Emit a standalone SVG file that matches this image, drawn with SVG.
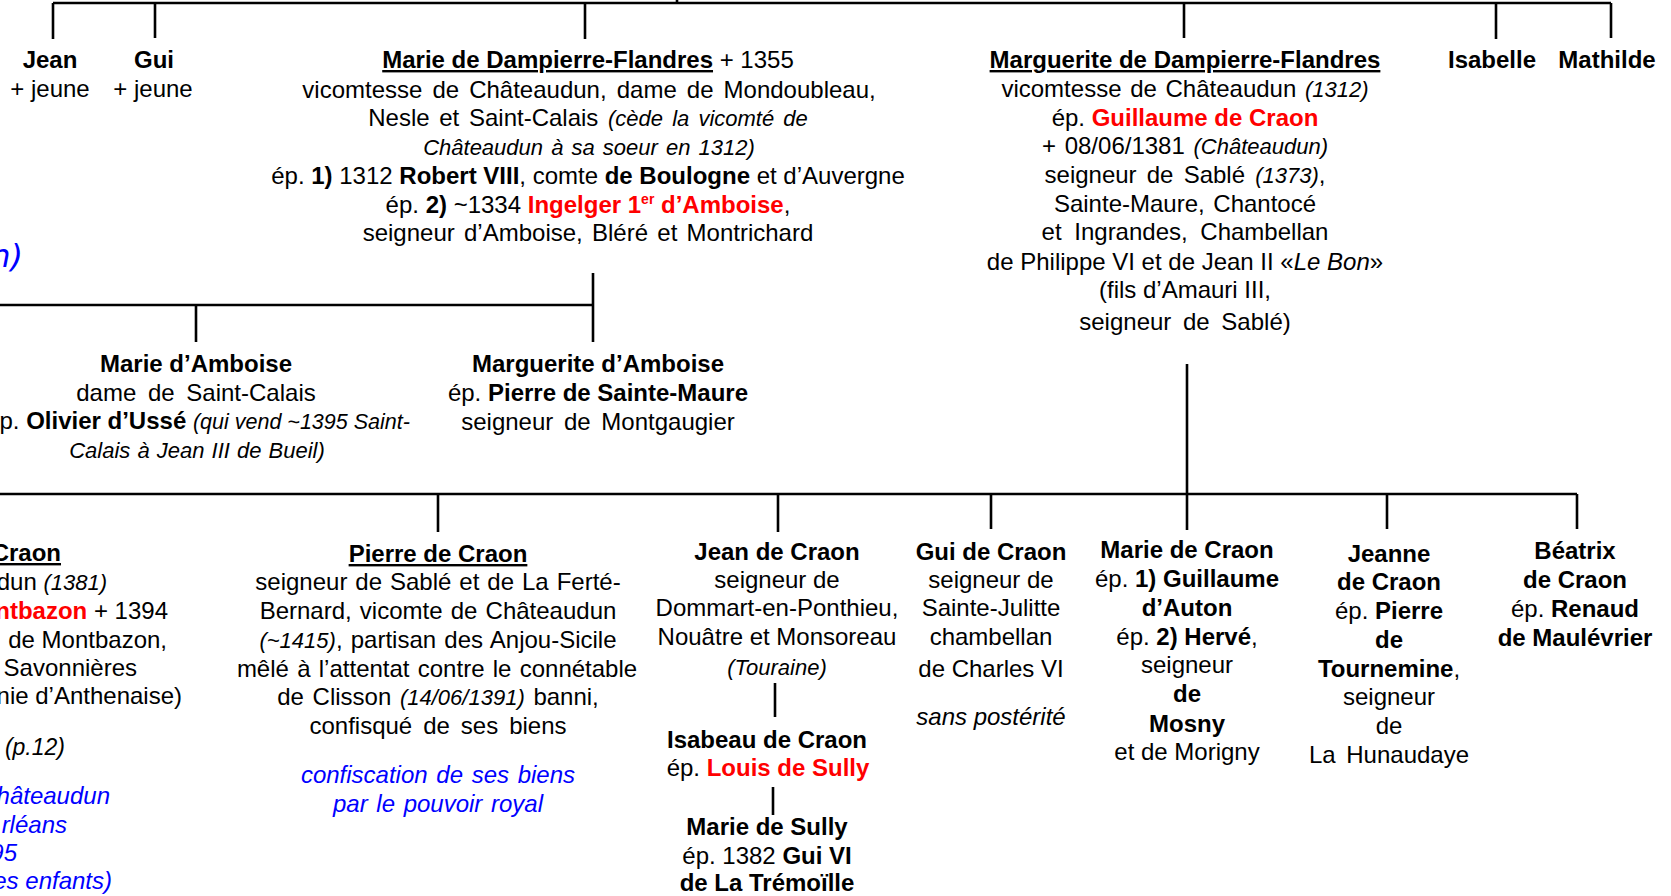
<svg xmlns="http://www.w3.org/2000/svg" width="1671" height="896" viewBox="0 0 1671 896">
<style>
text { font-family: "Liberation Sans", Arial, sans-serif; font-size: 24px; fill: #000; }
.c { text-anchor: middle; }
.e { text-anchor: end; }
.b { font-weight: bold; }
.i { font-style: italic; font-size: 22px; }
.il { font-style: italic; }
.r { fill: #FF0000; }
.bl { fill: #0000FF; font-style: italic; }
.u { text-decoration: underline; }
.sup { font-size: 14px; }
.ln { stroke: #000; stroke-width: 2.6; fill: none; }
</style>
<rect width="1671" height="896" fill="#fff"/>

<g id="connectors" class="ln">
  <path d="M53,3 H1611"/>
  <path d="M677,0 V3"/>
  <path d="M53,3 V39"/>
  <path d="M155,3 V38"/>
  <path d="M585,3 V39"/>
  <path d="M1184,3 V38"/>
  <path d="M1496,3 V39"/>
  <path d="M1611,3 V38"/>
  <path d="M0,305 H593"/>
  <path d="M593,273 V342"/>
  <path d="M196,305 V342"/>
  <path d="M0,494 H1577"/>
  <path d="M1187,364 V530"/>
  <path d="M438,494 V532"/>
  <path d="M778,494 V532"/>
  <path d="M991,494 V529"/>
  <path d="M1387,494 V529"/>
  <path d="M1577,494 V529"/>
  <path d="M775,683 V717"/>
  <path d="M773,787 V815"/>
</g>

<g id="note-left-top">
  <text x="23" y="267" class="e bl" style="font-family:'DejaVu Sans',sans-serif;font-size:32px">n)</text>
</g>

<g id="jean">
  <text x="50" y="68" class="c b">Jean</text>
  <text x="50" y="97" class="c">+ jeune</text>
</g>

<g id="gui">
  <text x="154" y="68" class="c b">Gui</text>
  <text x="153" y="97" class="c">+ jeune</text>
</g>

<g id="marie-dampierre">
  <text x="588" y="68" class="c"><tspan class="b u">Marie de Dampierre-Flandres</tspan> + 1355</text>
  <text x="589" y="98" class="c" style="word-spacing:3.4px">vicomtesse de Châteaudun, dame de Mondoubleau,</text>
  <text x="588" y="126" class="c" style="word-spacing:3px">Nesle et Saint-Calais <tspan class="i">(cède la vicomté de</tspan></text>
  <text x="589" y="155" class="c i" style="word-spacing:2px">Châteaudun à sa soeur en 1312)</text>
  <text x="588" y="184" class="c">ép. <tspan class="b">1)</tspan> 1312 <tspan class="b">Robert VIII</tspan>, comte <tspan class="b">de Boulogne</tspan> et d’Auvergne</text>
  <text x="588" y="213" class="c">ép. <tspan class="b">2)</tspan> ~1334 <tspan class="b r">Ingelger 1</tspan><tspan class="b r sup" dy="-9">er</tspan><tspan class="b r" dy="9"> d’Amboise</tspan>,</text>
  <text x="588" y="241" class="c" style="word-spacing:2.6px">seigneur d’Amboise, Bléré et Montrichard</text>
</g>

<g id="marguerite-dampierre">
  <text x="1185" y="68" class="c b"><tspan class="u">Marguerite de Dampierre-Flandres</tspan></text>
  <text x="1185" y="97" class="c" style="word-spacing:2px">vicomtesse de Châteaudun <tspan class="i">(1312)</tspan></text>
  <text x="1185" y="126" class="c">ép. <tspan class="b r">Guillaume de Craon</tspan></text>
  <text x="1185" y="154" class="c" style="word-spacing:2px">+ 08/06/1381 <tspan class="i">(Châteaudun)</tspan></text>
  <text x="1185" y="183" class="c" style="word-spacing:3.5px">seigneur de Sablé <tspan class="i">(1373)</tspan>,</text>
  <text x="1185" y="212" class="c" style="word-spacing:2px">Sainte-Maure, Chantocé</text>
  <text x="1185" y="240" class="c" style="word-spacing:6px">et Ingrandes, Chambellan</text>
  <text x="1185" y="270" class="c">de Philippe VI et de Jean II «<tspan class="il">Le Bon</tspan>»</text>
  <text x="1185" y="298" class="c">(fils d’Amauri III,</text>
  <text x="1185" y="330" class="c" style="word-spacing:5px">seigneur de Sablé)</text>
</g>

<g id="isabelle">
  <text x="1492" y="68" class="c b">Isabelle</text>
</g>

<g id="mathilde">
  <text x="1607" y="68" class="c b">Mathilde</text>
</g>

<g id="marie-amboise">
  <text x="196" y="372" class="c b">Marie d’Amboise</text>
  <text x="196" y="401" class="c" style="word-spacing:5px">dame de Saint-Calais</text>
  <text x="198" y="429" class="c">ép. <tspan class="b">Olivier d’Ussé</tspan> <tspan class="i" style="font-size:21.5px">(qui vend ~1395 Saint-</tspan></text>
  <text x="197" y="458" class="c i" style="word-spacing:1px">Calais à Jean III de Bueil)</text>
</g>

<g id="marguerite-amboise">
  <text x="598" y="372" class="c b">Marguerite d’Amboise</text>
  <text x="598" y="401" class="c">ép. <tspan class="b">Pierre de Sainte-Maure</tspan></text>
  <text x="598" y="430" class="c" style="word-spacing:4px">seigneur de Montgaugier</text>
</g>

<g id="craon-left">
  <text x="61" y="561" class="e b"><tspan class="u">Craon</tspan></text>
  <text x="107" y="590" class="e">dun <tspan class="i">(1381)</tspan></text>
  <text x="168" y="619" class="e"><tspan class="b r">ntbazon</tspan> + 1394</text>
  <text x="167" y="648" class="e">de Montbazon,</text>
  <text x="137" y="676" class="e">Savonnières</text>
  <text x="182" y="704" class="e">nie d’Anthenaise)</text>
  <text x="65" y="755" class="e i" style="font-size:23px">(p.12)</text>
  <text x="110" y="804" class="e bl">hâteaudun</text>
  <text x="67" y="833" class="e bl">rléans</text>
  <text x="17" y="861" class="e bl">95</text>
  <text x="112" y="889" class="e bl">es enfants)</text>
</g>

<g id="pierre-craon">
  <text x="438" y="562" class="c b"><tspan class="u">Pierre de Craon</tspan></text>
  <text x="438" y="590" class="c" style="word-spacing:1.3px">seigneur de Sablé et de La Ferté-</text>
  <text x="438" y="619" class="c" style="word-spacing:1.5px">Bernard, vicomte de Châteaudun</text>
  <text x="438" y="648" class="c" style="word-spacing:1.5px"><tspan class="i">(~1415)</tspan>, partisan des Anjou-Sicile</text>
  <text x="437" y="677" class="c" style="word-spacing:1.6px">mêlé à l’attentat contre le connétable</text>
  <text x="438" y="705" class="c" style="word-spacing:2px">de Clisson <tspan class="i">(14/06/1391)</tspan> banni,</text>
  <text x="438" y="734" class="c" style="word-spacing:4.3px">confisqué de ses biens</text>
  <text x="438" y="783" class="c bl" style="word-spacing:2px">confiscation de ses biens</text>
  <text x="438" y="812" class="c bl" style="word-spacing:2px">par le pouvoir royal</text>
</g>

<g id="jean-craon">
  <text x="777" y="560" class="c b">Jean de Craon</text>
  <text x="777" y="588" class="c">seigneur de</text>
  <text x="777" y="616" class="c">Dommart-en-Ponthieu,</text>
  <text x="777" y="645" class="c">Nouâtre et Monsoreau</text>
  <text x="777" y="675" class="c i">(Touraine)</text>
</g>

<g id="isabeau-craon">
  <text x="767" y="748" class="c b">Isabeau de Craon</text>
  <text x="768" y="776" class="c">ép. <tspan class="b r">Louis de Sully</tspan></text>
</g>

<g id="marie-sully">
  <text x="767" y="835" class="c b">Marie de Sully</text>
  <text x="767" y="864" class="c">ép. 1382 <tspan class="b">Gui VI</tspan></text>
  <text x="767" y="891" class="c b">de La Trémoïlle</text>
</g>

<g id="gui-craon">
  <text x="991" y="560" class="c b">Gui de Craon</text>
  <text x="991" y="588" class="c">seigneur de</text>
  <text x="991" y="616" class="c">Sainte-Julitte</text>
  <text x="991" y="645" class="c">chambellan</text>
  <text x="991" y="677" class="c">de Charles VI</text>
  <text x="991" y="725" class="c il">sans postérité</text>
</g>

<g id="marie-craon">
  <text x="1187" y="558" class="c b">Marie de Craon</text>
  <text x="1187" y="587" class="c">ép. <tspan class="b">1) Guillaume</tspan></text>
  <text x="1187" y="616" class="c b">d’Auton</text>
  <text x="1187" y="645" class="c">ép. <tspan class="b">2) Hervé</tspan>,</text>
  <text x="1187" y="673" class="c">seigneur</text>
  <text x="1187" y="702" class="c b">de</text>
  <text x="1187" y="732" class="c b">Mosny</text>
  <text x="1187" y="760" class="c">et de Morigny</text>
</g>

<g id="jeanne-craon">
  <text x="1389" y="562" class="c b">Jeanne</text>
  <text x="1389" y="590" class="c b">de Craon</text>
  <text x="1389" y="619" class="c">ép. <tspan class="b">Pierre</tspan></text>
  <text x="1389" y="648" class="c b">de</text>
  <text x="1389" y="677" class="c"><tspan class="b">Tournemine</tspan>,</text>
  <text x="1389" y="705" class="c">seigneur</text>
  <text x="1389" y="734" class="c">de</text>
  <text x="1389" y="763" class="c" style="word-spacing:4px">La Hunaudaye</text>
</g>

<g id="beatrix-craon">
  <text x="1575" y="559" class="c b">Béatrix</text>
  <text x="1575" y="588" class="c b">de Craon</text>
  <text x="1575" y="617" class="c">ép. <tspan class="b">Renaud</tspan></text>
  <text x="1575" y="646" class="c b">de Maulévrier</text>
</g>
</svg>
